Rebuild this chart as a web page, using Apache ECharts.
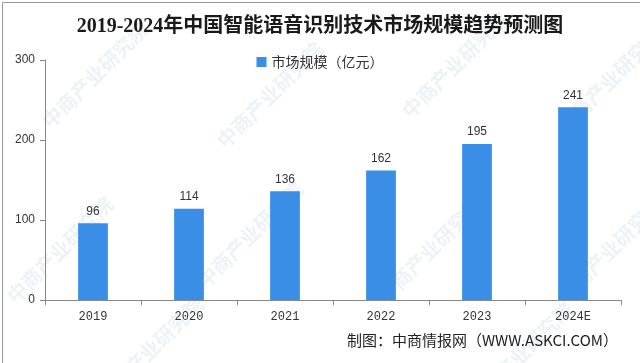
<!DOCTYPE html>
<html>
<head>
<meta charset="utf-8">
<script src="https://cdn.jsdelivr.net/npm/echarts@6/dist/echarts.min.js"></script>
<style>
html,body{margin:0;padding:0;background:#fff;}
#c{width:640px;height:363px;}
</style>
</head>
<body>
<div id="c"></div>
<script>
var titleText = '2019-2024年中国智能语音识别技术市场规模趋势预测图';
var seriesName = '市场规模（亿元）';
var categories = ['2019', '2020', '2021', '2022', '2023', '2024E'];
var values = [96, 114, 136, 162, 195, 241];
var yTicks = [0, 100, 200, 300];
var footerText = '制图：中商情报网（WWW.ASKCI.COM）';
var watermarkText = '中商产业研究院';

var chart = echarts.init(document.getElementById('c'), null, {renderer: 'canvas'});

var wmPositions = [[95, 75], [270, 95], [455, 65], [610, 80], [60, 250], [250, 235], [430, 250], [610, 250], [150, 350], [520, 355]];
var wm = wmPositions.map(function (p) {
  return {
    type: 'text', x: p[0], y: p[1], rotation: Math.PI / 4, z: -10, silent: true,
    style: {text: watermarkText, fill: 'rgba(140,175,210,0.16)', font: 'bold 20px "Noto Sans CJK SC"', align: 'center', verticalAlign: 'middle'}
  };
});

var option = {
  backgroundColor: '#ffffff',
  animation: false,
  title: {
    text: titleText,
    left: 'center',
    top: 12,
    textStyle: {fontFamily: '"Liberation Serif", "Noto Sans CJK SC"', fontWeight: 'bold', fontSize: 20, color: '#1a1a1a'}
  },
  legend: {
    data: [seriesName],
    top: 50,
    left: 'center',
    itemWidth: 10, itemHeight: 10, itemGap: 5,
    icon: 'rect',
    textStyle: {fontFamily: '"Noto Sans CJK SC"', fontSize: 14, color: '#333'}
  },
  grid: {left: 45, right: 19, top: 60, bottom: 63, containLabel: false},
  xAxis: {
    type: 'category',
    data: categories,
    axisLine: {lineStyle: {color: '#888', width: 1}},
    axisTick: {show: true, alignWithLabel: false, length: 5, lineStyle: {color: '#888'}},
    axisLabel: {margin: 11, fontFamily: '"Liberation Mono", "DejaVu Sans Mono"', fontSize: 12, color: '#333'}
  },
  yAxis: {
    type: 'value',
    min: 0, max: 300, interval: 100,
    axisLine: {show: true, lineStyle: {color: '#888', width: 1}},
    axisTick: {show: true, length: 5, lineStyle: {color: '#888'}},
    splitLine: {show: false},
    axisLabel: {margin: 10, fontFamily: '"Liberation Sans", Arial', fontSize: 12, color: '#333'}
  },
  series: [{
    name: seriesName,
    type: 'bar',
    data: values,
    barWidth: '31%',
    itemStyle: {color: '#3A8EE6'},
    label: {show: true, position: 'top', distance: 6, fontFamily: '"Liberation Sans", Arial', fontSize: 12, color: '#333'}
  }],
  graphic: wm.concat([
    {type: 'rect', left: 0, top: 0, z: 100, silent: true, shape: {x: 0.5, y: 0.5, width: 639, height: 362}, style: {fill: 'none', stroke: '#999', lineWidth: 1}},
    {type: 'text', right: 22, top: 333, z: 50, style: {text: footerText, font: '15px "Noto Sans CJK SC"', fill: '#222'}}
  ])
};
chart.setOption(option);
</script>
</body>
</html>
